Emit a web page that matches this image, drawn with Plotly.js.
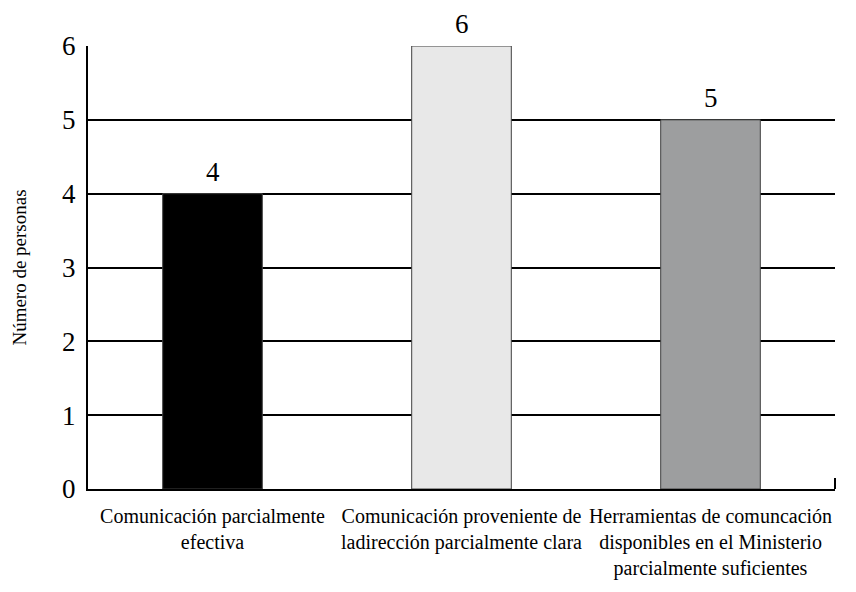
<!DOCTYPE html>
<html>
<head>
<meta charset="utf-8">
<script src="https://cdn.plot.ly/plotly-3.0.1.min.js"></script>
<style>
  html, body { margin: 0; padding: 0; background: #ffffff; }
  #chart { width: 856px; height: 592px; }
</style>
</head>
<body>
<div id="chart"></div>
<script>
// Opinión sobre la comunicación interna (número de personas)
const categories = [
  "Comunicación parcialmente<br>efectiva",
  "Comunicación proveniente de<br>ladirección parcialmente clara",
  "Herramientas de comuncación<br>disponibles en el Ministerio<br>parcialmente suficientes"
];
const personas = [4, 6, 5];
const barColors = ["#000000", "#e8e8e8", "#9d9e9f"];
const yTicks = [0, 1, 2, 3, 4, 5, 6];

const serif = "Liberation Serif";

const trace = {
  type: "bar",
  x: categories,
  y: personas,
  marker: { color: barColors, line: { color: "#404040", width: 1 } },
  hoverinfo: "skip"
};

// value labels above each bar
const valueLabels = categories.map((c, i) => ({
  x: c, y: personas[i], xref: "x", yref: "y",
  text: String(personas[i]), showarrow: false,
  yanchor: "bottom", yshift: 5,
  font: { family: serif, size: 27, color: "#000" }
}));

const layout = {
  width: 856, height: 592,
  margin: { l: 88, r: 21, t: 46, b: 103 },
  paper_bgcolor: "#ffffff", plot_bgcolor: "#ffffff",
  showlegend: false,
  bargap: 0.6,
  font: { family: serif, color: "#000" },
  xaxis: {
    type: "category",
    showgrid: false,
    showline: true, linecolor: "#000", linewidth: 2,
    ticks: "", ticklabelstandoff: 8,
    tickfont: { family: serif, size: 20, color: "#000" },
    fixedrange: true
  },
  yaxis: {
    range: [0, 6],
    tickvals: yTicks,
    showgrid: true, gridcolor: "#000", gridwidth: 2,
    showline: true, linecolor: "#000", linewidth: 2,
    zeroline: false,
    ticks: "", ticklabelstandoff: 5,
    tickfont: { family: serif, size: 27, color: "#000" },
    title: { text: "Número de personas", font: { family: serif, size: 19, color: "#000" }, standoff: 30 },
    fixedrange: true
  },
  shapes: [
    // short upright tick closing the right end of the category axis
    { type: "line", xref: "paper", yref: "y", x0: 1, x1: 1, y0: 0, y1: 0.15,
      line: { color: "#000", width: 2 } }
  ],
  annotations: valueLabels
};

Plotly.newPlot("chart", [trace], layout, { displayModeBar: false, staticPlot: true });
</script>
</body>
</html>
